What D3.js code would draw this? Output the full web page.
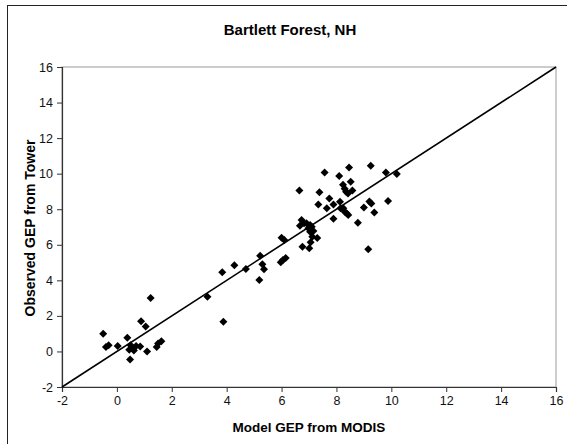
<!DOCTYPE html>
<html>
<head>
<meta charset="utf-8">
<script src="https://cdn.jsdelivr.net/npm/d3@7"></script>
<style>
  html, body { margin: 0; padding: 0; background: #fff; }
  svg { display: block; font-family: "Liberation Sans", Arial, sans-serif; }
</style>
</head>
<body>
<svg id="chart" width="567" height="444"></svg>
<script>
// Model GEP (MODIS) vs observed GEP (tower), Bartlett Forest
const modelGEP = [
  -0.5, -0.4, -0.3, 0.03, 0.38, 0.45, 0.48, 0.5, 0.62, 0.7, 0.85, 0.88, 1.05, 1.1, 1.23, 1.45, 1.5, 1.62, 0.55,
  3.3, 3.88, 3.84, 4.28, 4.7, 5.19, 5.22, 5.3, 5.36, 5.97, 6.05, 6.15, 6.0, 6.1,
  6.65, 7.57, 8.1, 8.46, 9.25, 9.8, 10.2,
  8.52, 8.24, 8.3, 8.35, 8.42, 8.58,
  7.38, 7.74, 7.34, 7.65, 7.89, 8.13,
  8.15, 8.25, 8.3, 8.37, 8.43, 7.89, 8.78,
  9.0, 9.2, 9.27, 9.88, 9.38, 9.16,
  6.73, 6.67, 6.82, 6.91, 7.04, 7.1, 6.98, 7.04, 7.16, 7.12, 7.3, 7.06, 6.76, 7.01
];
const towerGEP = [
  1.0, 0.25, 0.35, 0.3, 0.77, 0.1, -0.45, 0.35, 0.05, 0.3, 0.28, 1.7, 1.4, 0.0, 3.0, 0.25, 0.45, 0.58, 0.2,
  3.07, 1.67, 4.45, 4.85, 4.64, 4.02, 5.38, 4.9, 4.62, 5.02, 5.14, 5.25, 6.4, 6.27,
  9.05, 10.07, 9.87, 10.35, 10.44, 10.06, 9.98,
  9.55, 9.38, 9.15, 8.98, 8.88, 9.05,
  8.95, 8.61, 8.27, 8.05, 8.27, 8.42,
  8.05, 8.05, 7.86, 7.77, 7.68, 7.47, 7.24,
  8.1, 8.44, 8.32, 8.46, 7.82, 5.75,
  7.39, 7.07, 7.21, 7.21, 7.11, 7.02, 6.93, 6.73, 6.77, 6.45, 6.38, 6.14, 5.89, 5.8
];
const xTicks = [-2, 0, 2, 4, 6, 8, 10, 12, 14, 16];
const yTicks = [-2, 0, 2, 4, 6, 8, 10, 12, 14, 16];
const oneToOne = [-2, 16];

const svg = d3.select("#chart");

// outer chart frame (left and top edges visible)
svg.append("rect")
  .attr("x", 7.5).attr("y", 5.5)
  .attr("width", 600).attr("height", 480)
  .attr("fill", "#fff").attr("stroke", "#222").attr("stroke-width", 1);

const plotLeft = 62, plotRight = 556, plotTop = 67, plotBottom = 387;
const x = d3.scaleLinear().domain([-2, 16]).range([plotLeft, plotRight]);
const y = d3.scaleLinear().domain([-2, 16]).range([plotBottom, plotTop]);

// plot area border
svg.append("rect")
  .attr("x", plotLeft).attr("y", plotTop)
  .attr("width", plotRight - plotLeft).attr("height", plotBottom - plotTop)
  .attr("fill", "none").attr("stroke", "#9a9a9a").attr("stroke-width", 1);

// axes
const xAxis = svg.append("g")
  .attr("transform", `translate(0,${plotBottom})`)
  .call(d3.axisBottom(x).tickValues(xTicks).tickSize(5).tickPadding(4).tickFormat(d3.format("d")));
const yAxis = svg.append("g")
  .attr("transform", `translate(${plotLeft},0)`)
  .call(d3.axisLeft(y).tickValues(yTicks).tickSize(5).tickPadding(4).tickFormat(d3.format("d")));

[xAxis, yAxis].forEach(g => {
  g.select(".domain").attr("stroke", "#333").attr("stroke-width", 1.2);
  g.selectAll(".tick line").attr("stroke", "#333");
  g.selectAll(".tick text")
    .attr("fill", "#111")
    .style("font-family", "'Liberation Sans', Arial, sans-serif")
    .style("font-size", "12.5px");
});
// plain hyphen for negative tick labels
svg.selectAll(".tick text").text(d => d < 0 ? "-" + Math.abs(d) : String(d));

// 1:1 line
svg.append("line")
  .attr("x1", x(oneToOne[0])).attr("y1", y(oneToOne[0]))
  .attr("x2", x(oneToOne[1])).attr("y2", y(oneToOne[1]))
  .attr("stroke", "#000").attr("stroke-width", 1.6);

// diamond markers
const pts = modelGEP.map((m, i) => [m, towerGEP[i]]);
const r = 4;
svg.append("g")
  .selectAll("path")
  .data(pts)
  .join("path")
  .attr("transform", d => `translate(${x(d[0])},${y(d[1])})`)
  .attr("d", `M0,${-r}L${r},0L0,${r}L${-r},0Z`)
  .attr("fill", "#000");

// titles
svg.append("text")
  .attr("x", 290).attr("y", 35)
  .attr("text-anchor", "middle")
  .style("font-size", "15px").style("font-weight", "bold")
  .text("Bartlett Forest, NH");

svg.append("text")
  .attr("x", 309).attr("y", 432)
  .attr("text-anchor", "middle")
  .style("font-size", "13.5px").style("font-weight", "bold")
  .text("Model GEP from MODIS");

svg.append("text")
  .attr("transform", "translate(35,228) rotate(-90)")
  .attr("text-anchor", "middle")
  .style("font-size", "14px").style("font-weight", "bold")
  .text("Observed GEP from Tower");
</script>
</body>
</html>
